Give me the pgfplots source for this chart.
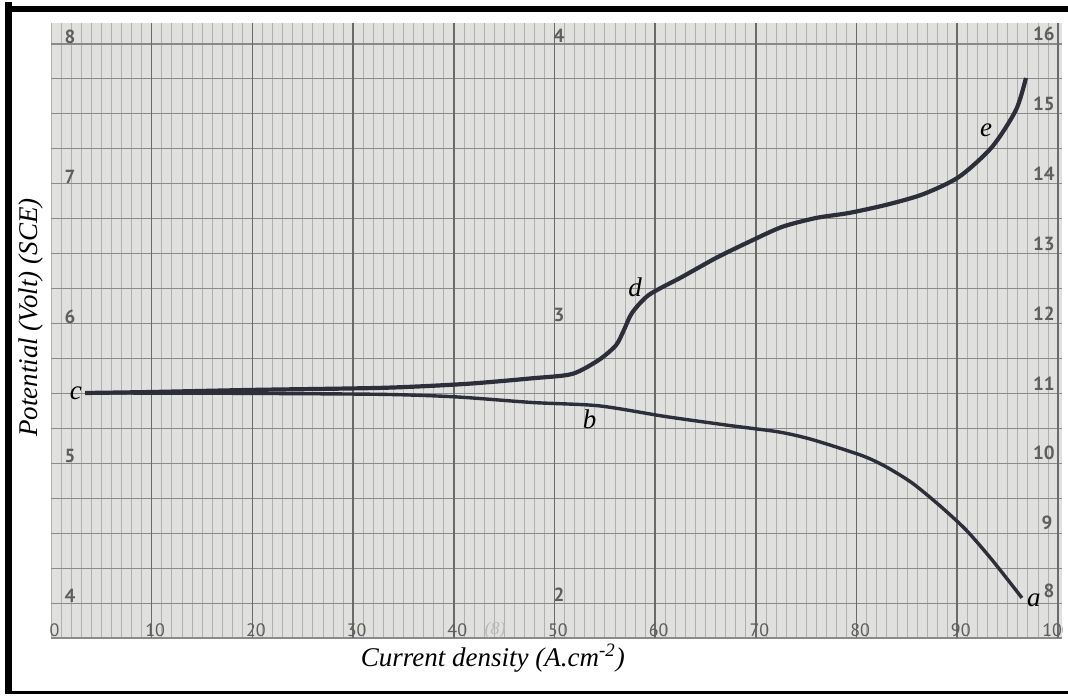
\documentclass[border=0pt]{standalone}
\usepackage{fontspec}
\setmainfont{Liberation Serif}
\newfontfamily\paperfont{PT Sans}
\usepackage{pgfplots}
\pgfplotsset{compat=1.18}
\usetikzlibrary{calc}
\definecolor{paper}{HTML}{E0E0DE}
\definecolor{gridmaj}{HTML}{8A8A8A}
\definecolor{gridten}{HTML}{6A6A6A}
\definecolor{gridmin}{HTML}{B0B0B0}
\definecolor{ink}{HTML}{2E2E3A}
\definecolor{printnum}{HTML}{5E5E5E}

\begin{document}
\begin{tikzpicture}[
  pnum/.style={font=\paperfont\bfseries\fontsize{9.5}{10}\selectfont, text=printnum, inner sep=0pt},
  bnum/.style={font=\paperfont\fontsize{9}{10}\selectfont, text=printnum, inner sep=0pt},
  lab/.style={font=\fontsize{13.5}{16}\selectfont\itshape, inner sep=0pt},
]
\begin{axis}[
  name=ax,
  scale only axis,
  width=505.5pt, height=307.5pt,
  xmin=0, xmax=100.4, ymin=3.75, ymax=8.15,
  axis background/.style={fill=paper},
  axis line style={draw=none},
  xtick={0,1,...,100},
  ytick={3.75,4,...,8},
  xticklabels={}, yticklabels={},
  major tick length=0pt,
  grid=major,
  major x grid style={gridmin, line width=0.35pt},
  major y grid style={gridmaj, line width=0.55pt},
  xlabel={Current density (A.cm\textsuperscript{-2})},
  ylabel={Potential (Volt) (SCE)},
  label style={font=\fontsize{13.5}{16}\selectfont\itshape},
  xlabel style={at={(axis description cs:0.437,-0.0325)}, anchor=center},
  ylabel style={at={(axis description cs:-0.0198,0.521)}, anchor=center},
]
% heavier rulings of the chart paper every 10 divisions
\pgfplotsinvokeforeach{10,20,...,100}{
  \draw[gridten, line width=0.8pt] (axis cs:#1,3.75) -- (axis cs:#1,8.15);
}
% anodic branch c -> d -> e
\addplot[ink, line width=2.1pt, smooth, tension=0.45] coordinates {
  (3.38,5.503) (10,5.510) (20,5.525) (33,5.540) (41.21,5.568)
  (47.77,5.608) (51.74,5.639) (54.42,5.740) (56.11,5.845)
  (56.90,5.954) (57.70,6.076) (59.38,6.205) (62.66,6.333) (66.04,6.469)
  (69.31,6.584) (72.59,6.691) (75.97,6.755) (79.25,6.791) (83.0,6.850)
  (86.6,6.925) (90.17,7.049) (93.45,7.263) (95.83,7.528) (96.82,7.757)
};
% cathodic branch c -> b -> a
\addplot[ink, line width=1.7pt, smooth, tension=0.45] coordinates {
  (3.38,5.503) (12,5.502) (20,5.500) (33,5.493) (40.22,5.475)
  (47.77,5.435) (54.42,5.411) (61.07,5.334) (67.63,5.268) (72.29,5.224)
  (75.57,5.170) (80.54,5.055) (82.92,4.975) (85.50,4.860) (88.18,4.702)
  (90.86,4.524) (93.45,4.309) (96.42,4.037)
};

% curve letters
\node[lab] at (axis cs:2.48,5.504) {c};
\node[lab] at (axis cs:58.0,6.262) {d};
\node[lab] at (axis cs:53.5,5.318) {b};
\node[lab] at (axis cs:92.85,7.385) {e};
\node[lab] at (axis cs:97.6,4.023) {a};

% printed numbers of the chart paper: left scale
\node[pnum, yshift=3.5pt] at (axis cs:1.9,8) {8};
\node[pnum, yshift=3.5pt] at (axis cs:1.9,7) {7};
\node[pnum, yshift=3.5pt] at (axis cs:1.9,6) {6};
\node[pnum, yshift=3.5pt] at (axis cs:1.9,5) {5};
\node[pnum, yshift=3.5pt] at (axis cs:1.9,4) {4};
% middle scale
\node[pnum, yshift=4.3pt] at (axis cs:50.45,8) {4};
\node[pnum, yshift=4.3pt] at (axis cs:50.45,6) {3};
\node[pnum, yshift=4.3pt] at (axis cs:50.45,4) {2};
% right scale
\node[pnum, yshift=5pt] at (axis cs:98.6,8) {16};
\node[pnum, yshift=5pt] at (axis cs:98.6,7.5) {15};
\node[pnum, yshift=5pt] at (axis cs:98.6,7) {14};
\node[pnum, yshift=5pt] at (axis cs:98.6,6.5) {13};
\node[pnum, yshift=5pt] at (axis cs:98.6,6) {12};
\node[pnum, yshift=5pt] at (axis cs:98.6,5.5) {11};
\node[pnum, yshift=5pt] at (axis cs:98.6,5) {10};
\node[pnum, yshift=5pt] at (axis cs:98.9,4.5) {9};
\node[pnum, yshift=6pt] at (axis cs:99.1,4) {8};
% bottom scale
\pgfplotsinvokeforeach{0,10,...,90}{
  \node[bnum, xshift=1.75pt, yshift=4pt] at (axis cs:#1,3.75) {#1};
}
\node[bnum, xshift=-0.5pt, yshift=4pt] at (axis cs:100,3.75) {100};
\node[font=\itshape\fontsize{9}{10}\selectfont, text=gray!55, inner sep=0pt, yshift=4pt] at (axis cs:44.1,3.75) {(8)};
\end{axis}

\pgfresetboundingbox
\path[use as bounding box] ($(ax.south west)+(-25.5pt,-28.5pt)$) rectangle ($(ax.south west)+(508.5pt,319pt)$);
% black frame round the figure
\draw[line width=3.5pt] ($(ax.south west)+(-21.25pt,318pt)$) -- ($(ax.south west)+(-21.25pt,-28pt)$);
\draw[line width=3.3pt] ($(ax.south west)+(-23pt,314.4pt)$) -- ($(ax.south west)+(512pt,314.4pt)$);
\draw[line width=1.5pt] ($(ax.south west)+(-23pt,-27.25pt)$) -- ($(ax.south west)+(512pt,-27.25pt)$);
\end{tikzpicture}
\end{document}
